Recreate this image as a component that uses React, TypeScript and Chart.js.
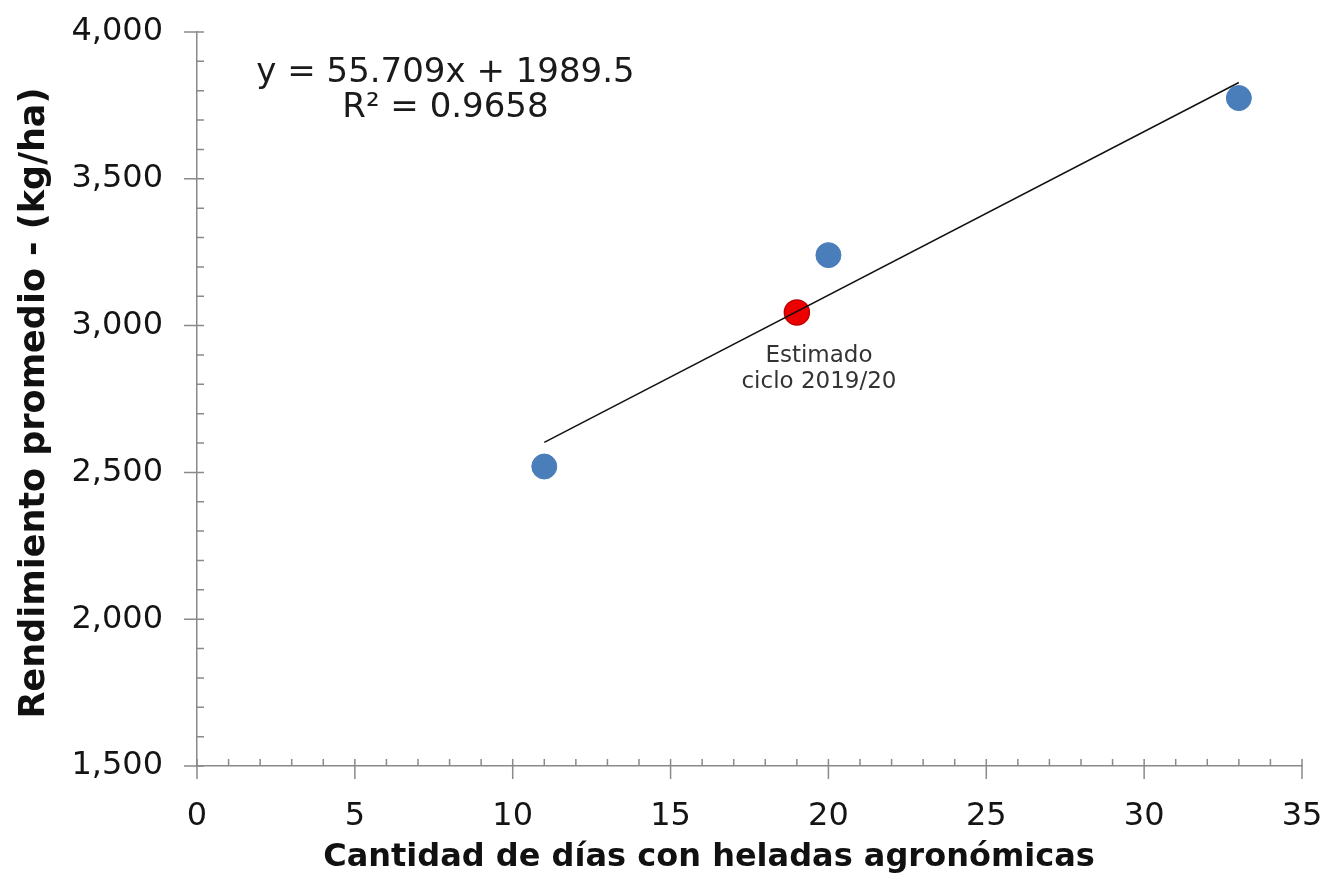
import React, { useEffect, useRef } from "react";
import { Chart, registerables } from "chart.js";

Chart.register(...registerables);

const observedX = [11, 20, 33];
const observedY = [2520, 3240, 3775];
const estimatedX = [19];
const estimatedY = [3045];
const trendX = [11, 33];
const slope = 55.709;
const intercept = 1989.5;
const equationLines = ["y = 55.709x + 1989.5", "R\u00B2 = 0.9658"];
const annotationLines = ["Estimado", "ciclo 2019/20"];
const xTitle = "Cantidad de días con heladas agronómicas";
const yTitle = "Rendimiento promedio - (kg/ha)";

const FONT = "'DejaVu Sans', Verdana, sans-serif";
const AXIS_COLOR = "#8a8a8a";

const tickPlugin = {
  id: "excelTicks",
  afterDraw(chart: any) {
    const ctx = chart.ctx;
    const xs = chart.scales.x;
    const ys = chart.scales.y;
    const x0 = xs.getPixelForValue(0);
    const y0 = ys.getPixelForValue(1500);
    ctx.save();
    ctx.strokeStyle = AXIS_COLOR;
    ctx.lineWidth = 1.5;
    ctx.beginPath();
    for (let v = 0; v <= 35; v += 1) {
      const px = xs.getPixelForValue(v);
      if (v % 5 === 0) {
        ctx.moveTo(px, y0 - 7);
        ctx.lineTo(px, y0 + 13);
      } else {
        ctx.moveTo(px, y0 - 7);
        ctx.lineTo(px, y0);
      }
    }
    for (let v = 1500; v <= 4000; v += 100) {
      const py = ys.getPixelForValue(v);
      if (v % 500 === 0) {
        ctx.moveTo(x0 - 13, py);
        ctx.lineTo(x0 + 7, py);
      } else {
        ctx.moveTo(x0, py);
        ctx.lineTo(x0 + 7, py);
      }
    }
    ctx.stroke();

    // axis titles
    ctx.fillStyle = "#111111";
    ctx.textAlign = "center";
    ctx.textBaseline = "middle";
    ctx.font = `bold 32px ${FONT}`;
    ctx.fillText(xTitle, 709, 858);
    ctx.save();
    ctx.translate(35, 403);
    ctx.rotate(-Math.PI / 2);
    ctx.font = `bold 35px ${FONT}`;
    ctx.fillText(yTitle, 0, 0);
    ctx.restore();
    ctx.restore();
  },
};

const textPlugin = {
  id: "excelText",
  afterDatasetsDraw(chart: any) {
    const ctx = chart.ctx;
    const xs = chart.scales.x;
    const ys = chart.scales.y;
    ctx.save();
    ctx.textAlign = "center";
    ctx.textBaseline = "middle";
    ctx.fillStyle = "#1a1a1a";
    ctx.font = `34px ${FONT}`;
    const ex = xs.getPixelForValue(7.87);
    ctx.fillText(equationLines[0], ex, ys.getPixelForValue(3860));
    ctx.fillText(equationLines[1], ex, ys.getPixelForValue(3742));
    ctx.fillStyle = "#333333";
    ctx.font = `23px ${FONT}`;
    const ax = xs.getPixelForValue(19.7);
    ctx.fillText(annotationLines[0], ax, ys.getPixelForValue(2898));
    ctx.fillText(annotationLines[1], ax, ys.getPixelForValue(2808));
    ctx.restore();
  },
};

export default function App() {
  const ref = useRef<HTMLCanvasElement | null>(null);

  useEffect(() => {
    document.body.style.margin = "0";
    const canvas = ref.current;
    if (!canvas) return;
    const trendData = trendX.map((x) => ({ x, y: slope * x + intercept }));
    const chart = new Chart(canvas, {
      type: "scatter",
      data: {
        datasets: [
          {
            type: "line",
            label: "Tendencia",
            data: trendData,
            borderColor: "#111111",
            borderWidth: 1.5,
            pointRadius: 0,
            fill: false,
          } as any,
          {
            label: "Estimado",
            data: estimatedX.map((x, i) => ({ x, y: estimatedY[i] })),
            backgroundColor: "#ee0000",
            borderColor: "#c00000",
            borderWidth: 1.5,
            pointRadius: 12.5,
          },
          {
            label: "Observado",
            data: observedX.map((x, i) => ({ x, y: observedY[i] })),
            backgroundColor: "#4a7ebb",
            borderColor: "#4a7ebb",
            borderWidth: 1,
            pointRadius: 12.5,
          },
        ],
      },
      options: {
        animation: false,
        responsive: false,
        devicePixelRatio: 1,
        layout: { padding: { top: 32, right: 26, left: 0, bottom: 0 } },
        plugins: {
          legend: { display: false },
          tooltip: { enabled: false },
        },
        scales: {
          x: {
            type: "linear",
            min: 0,
            max: 35,
            afterFit: (s: any) => {
              s.height = 116;
              s.paddingRight = 0;
              s.paddingLeft = 0;
            },
            ticks: {
              stepSize: 5,
              color: "#141414",
              font: { family: FONT, size: 32 },
              padding: 31,
              maxRotation: 0,
            },
            grid: { display: false, drawTicks: false },
            border: { display: true, color: AXIS_COLOR, width: 1.5 },
            title: { display: false },
          },
          y: {
            type: "linear",
            min: 1500,
            max: 4000,
            afterFit: (s: any) => {
              s.width = 197;
              s.paddingTop = 0;
              s.paddingBottom = 0;
            },
            ticks: {
              stepSize: 500,
              color: "#141414",
              font: { family: FONT, size: 32 },
              padding: 34,
              callback: (v: any) => Number(v).toLocaleString("en-US"),
            },
            grid: { display: false, drawTicks: false },
            border: { display: true, color: AXIS_COLOR, width: 1.5 },
            title: { display: false },
          },
        },
      },
      plugins: [tickPlugin, textPlugin],
    });
    return () => chart.destroy();
  }, []);

  return (
    <div style={{ width: 1328, height: 882, background: "#ffffff" }}>
      <canvas ref={ref} width={1328} height={882} style={{ display: "block" }} />
    </div>
  );
}
